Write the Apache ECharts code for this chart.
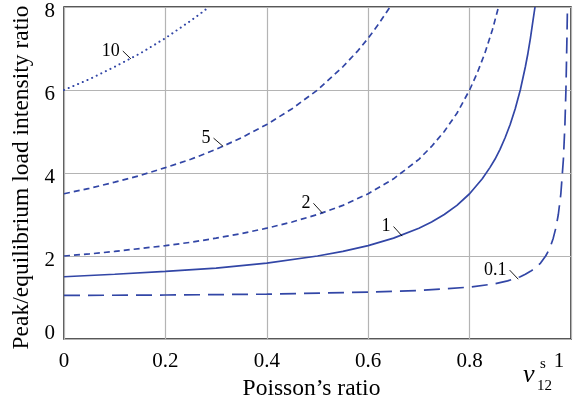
<!DOCTYPE html>
<html>
<head>
<meta charset="utf-8">
<script src="https://cdn.jsdelivr.net/npm/echarts@6/dist/echarts.min.js"></script>
<style>
  html, body { margin: 0; padding: 0; background: #fff; }
  #chart { width: 573px; height: 397px; }
</style>
</head>
<body>
<div id="chart"></div>
<script>
// values
const nu10 = [0, 0.05, 0.1, 0.15, 0.2, 0.25, 0.27, 0.2857];
const ratio10 = [6.0, 6.26, 6.56, 6.88, 7.25, 7.67, 7.85, 8.0];

const nu5 = [0, 0.05, 0.1, 0.15, 0.2, 0.25, 0.3, 0.35, 0.4, 0.45, 0.5, 0.55, 0.58, 0.6, 0.62, 0.643];
const ratio5 = [3.5, 3.63, 3.78, 3.94, 4.13, 4.33, 4.57, 4.85, 5.17, 5.55, 6.0, 6.56, 6.95, 7.25, 7.58, 8.0];

const nu2 = [0, 0.05, 0.1, 0.15, 0.2, 0.25, 0.3, 0.35, 0.4, 0.45, 0.5, 0.55, 0.6, 0.65, 0.7, 0.725, 0.75, 0.775, 0.8, 0.815, 0.83, 0.845, 0.857];
const ratio2 = [2.0, 2.05, 2.11, 2.18, 2.25, 2.33, 2.43, 2.54, 2.67, 2.82, 3.0, 3.22, 3.5, 3.86, 4.33, 4.64, 5.0, 5.44, 6.0, 6.41, 6.88, 7.45, 8.0];

const nu1 = [0, 0.1, 0.2, 0.3, 0.4, 0.5, 0.55, 0.6, 0.65, 0.7, 0.725, 0.75, 0.775, 0.8, 0.825, 0.84, 0.85, 0.86, 0.87, 0.88, 0.89, 0.9, 0.91, 0.915, 0.92, 0.925, 0.929];
const ratio1 = [1.5, 1.56, 1.63, 1.71, 1.83, 2.0, 2.11, 2.25, 2.43, 2.67, 2.82, 3.0, 3.22, 3.5, 3.86, 4.13, 4.33, 4.57, 4.85, 5.17, 5.55, 6.0, 6.56, 6.88, 7.25, 7.67, 8.0];

const nu01 = [0, 0.2, 0.4, 0.6, 0.7, 0.8, 0.85, 0.875, 0.9, 0.91, 0.92, 0.93, 0.94, 0.95, 0.955, 0.96, 0.965, 0.97, 0.975, 0.98, 0.985, 0.988, 0.99, 0.992, 0.993];
const ratio01 = [1.05, 1.06, 1.08, 1.13, 1.17, 1.25, 1.33, 1.4, 1.5, 1.56, 1.63, 1.71, 1.83, 2.0, 2.11, 2.25, 2.43, 2.67, 3.0, 3.5, 4.33, 5.17, 6.0, 7.25, 8.0];

// curve labels with their leader lines (data coords)
const labelText = ["10", "5", "2", "1", "0.1"];
const leaderFrom = [[0.116, 6.94], [0.295, 4.84], [0.492, 3.27], [0.650, 2.71], [0.879, 1.66]];
const leaderTo = [[0.132, 6.75], [0.314, 4.64], [0.51, 3.03], [0.667, 2.48], [0.896, 1.44]];

const xTicks = [0, 0.2, 0.4, 0.6, 0.8, 1];
const yTicks = [0, 2, 4, 6, 8];

const BLUE = "#3246a6";
const FONT = "Liberation Serif";

const zip = (xs, ys) => xs.map((x, i) => [x, ys[i]]);

const curve = (name, xs, ys, type) => ({
  name,
  type: "line",
  data: zip(xs, ys),
  showSymbol: false,
  silent: true,
  lineStyle: {
    color: BLUE,
    width: name === "10" ? 2 : 1.7,
    type,
    cap: name === "10" ? "round" : "butt",
  },
});

const leaders = labelText.map((t, i) => ({
  type: "line",
  silent: true,
  symbol: "circle",
  symbolSize: 0.1,
  showSymbol: true,
  itemStyle: { color: "#000" },
  lineStyle: { color: "#000", width: 0.9 },
  data: [
    {
      value: leaderFrom[i],
      label: {
        show: true,
        formatter: t,
        position: "left",
        distance: 3,
        color: "#000",
        fontFamily: FONT,
        fontSize: 18,
      },
    },
    leaderTo[i],
  ],
}));

const chart = echarts.init(document.getElementById("chart"), null, { renderer: "canvas" });

const tickText = { fontFamily: FONT, fontSize: 21, color: "#000" };

chart.setOption({
  animation: false,
  backgroundColor: "#fff",
  grid: {
    left: 64, right: 2, top: 7, bottom: 58,
    containLabel: false,
    outerBoundsMode: "none",
    show: true, borderColor: "#222", borderWidth: 1.5, backgroundColor: "transparent",
  },
  xAxis: {
    type: "value",
    min: 0, max: 1, interval: 0.2,
    name: "Poisson’s ratio",
    nameLocation: "middle",
    nameGap: 33,
    nameTextStyle: { fontFamily: FONT, fontSize: 23.5, color: "#000", padding: [0, 12, 0, 0] },
    axisLine: { show: false },
    axisTick: { show: false },
    axisLabel: {
      margin: 12,
      ...tickText,
      formatter: (v) => {
        const r = +v.toFixed(1);
        if (!xTicks.includes(r)) return "";
        return r === 1 ? "{e|1}" : String(r);
      },
      rich: { e: { ...tickText, padding: [0, 24, 0, 0] } },
    },
    splitLine: { show: true, lineStyle: { color: "#b4b4b4", width: 1.2 } },
  },
  yAxis: {
    type: "value",
    min: 0, max: 8, interval: 2,
    name: "Peak/equilibrium load intensity ratio",
    nameLocation: "middle",
    nameGap: 30,
    nameTextStyle: { fontFamily: FONT, fontSize: 23.5, color: "#000", padding: [0, 9, 0, 0] },
    axisLine: { show: false },
    axisTick: { show: false },
    axisLabel: {
      margin: 9,
      ...tickText,
      formatter: (v) => {
        if (!yTicks.includes(v)) return "";
        return v === 0 ? "{z|0}" : "{n|" + v + "}";
      },
      rich: {
        n: { ...tickText, padding: [8, 0, 0, 0] },
        z: { ...tickText, padding: [0, 0, 12, 0] },
      },
    },
    splitLine: { show: true, lineStyle: { color: "#b4b4b4", width: 1.2 } },
  },
  series: [
    curve("10", nu10, ratio10, [0.1, 5]),
    curve("5", nu5, ratio5, [6, 4]),
    curve("2", nu2, ratio2, [6, 4]),
    curve("1", nu1, ratio1, "solid"),
    curve("0.1", nu01, ratio01, [16, 8]),
    ...leaders,
  ],
  graphic: [
    { type: "text", x: 523, y: 375, style: { text: "ν", font: "italic 26px " + FONT, fill: "#000", verticalAlign: "middle" } },
    { type: "text", x: 540, y: 364, style: { text: "s", font: "15px " + FONT, fill: "#000", verticalAlign: "middle" } },
    { type: "text", x: 537, y: 386, style: { text: "12", font: "15px " + FONT, fill: "#000", verticalAlign: "middle" } },
  ],
});
</script>
</body>
</html>
